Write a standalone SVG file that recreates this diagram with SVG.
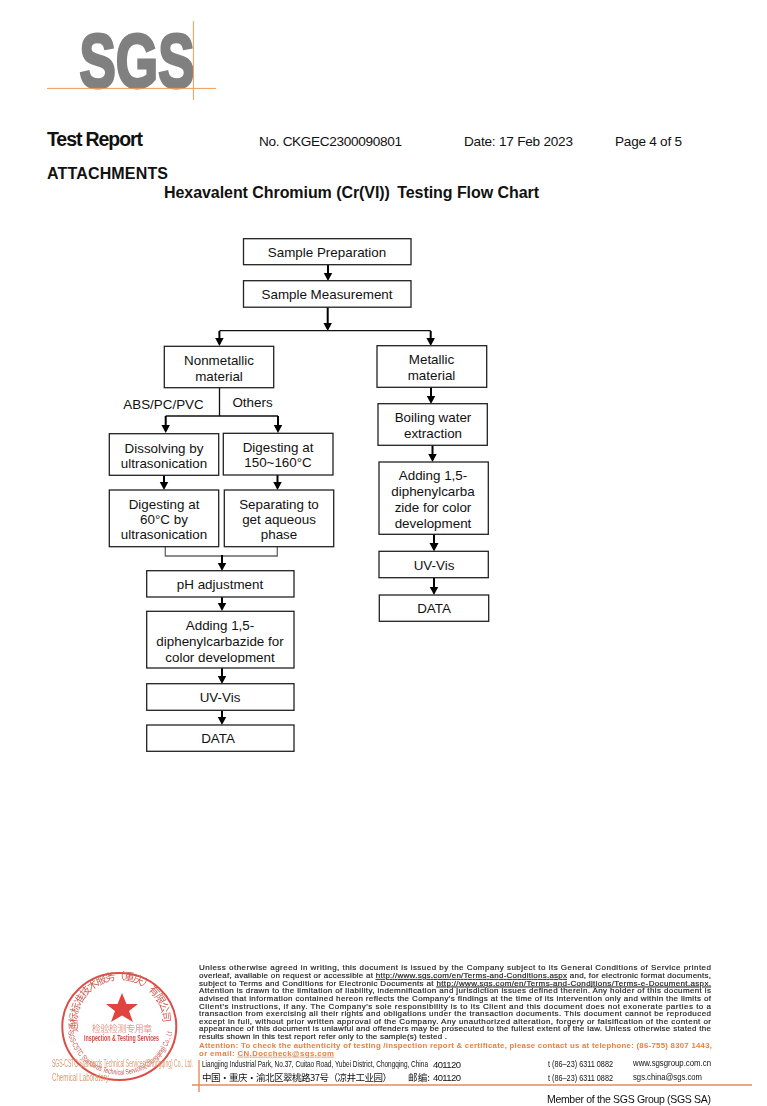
<svg xmlns="http://www.w3.org/2000/svg" width="767" height="1106" viewBox="0 0 767 1106">
<style>
text{font-family:"Liberation Sans",Arial,sans-serif;fill:#111}
.b{fill:#fff;stroke:#222;stroke-width:1.3}
.t{font-size:13.4px;text-anchor:middle}
.l{fill:none;stroke:#111;stroke-width:1.3}
.a{fill:none;stroke:#000;stroke-width:2;marker-end:url(#ah)}
.h{font-size:13.600px}
.f{font-size:8px;fill:#222;stroke:#222;stroke-width:.18}
.o{font-size:7.800px;font-weight:bold;fill:#e8803f}
.c{font-size:9.500px}
.s{fill:#d2302a;font-family:"Noto Sans CJK SC","Liberation Sans",sans-serif}
</style>
<defs>
<marker id="ah" markerUnits="userSpaceOnUse" markerWidth="10" markerHeight="10" refX="6" refY="4.500" orient="auto"><path d="M0 0L8.500 4.500L0 9Z" fill="#000"/></marker>
<path id="up" d="M0 0A43 43 0 1 1 84 0"/>
<path id="lo" d="M0 0A53 53 0 0 0 104 0"/>
<clipPath id="cut"><rect x="147" y="650" width="147" height="12.800"/></clipPath>
<filter id="soft"><feGaussianBlur stdDeviation=".25"/></filter>
</defs>
<rect width="767" height="1106" fill="#fff"/>
<g id="logo">
<text x="79.500" y="87" font-size="76" font-weight="bold" textLength="115" lengthAdjust="spacingAndGlyphs" style="fill:#808080;stroke:#808080;stroke-width:3">SGS</text>
<path d="M47 88.400H216M193.400 21V100" stroke="#ee9c55" fill="none"/>
</g>
<g id="header">
<text x="47" y="146" font-size="19.500" font-weight="bold" textLength="96">Test Report</text>
<text x="259" y="146" class="h" textLength="143">No. CKGEC2300090801</text>
<text x="464" y="146" class="h" textLength="109">Date: 17 Feb 2023</text>
<text x="615" y="146" class="h" textLength="67">Page 4 of 5</text>
<text x="47" y="179" font-size="16" font-weight="bold" textLength="121">ATTACHMENTS</text>
<text x="164" y="198" font-size="16" font-weight="bold" textLength="375">Hexavalent Chromium (Cr(VI)) <tspan dx="3">Testing Flow Chart</tspan></text>
</g>
<g id="connectors">
<path class="a" d="M328 265V278.500"/>
<path class="a" d="M327.700 307V328.500"/>
<path class="l" d="M219.400 330.700H430.700"/>
<path class="a" d="M219.400 331V343.500"/>
<path class="a" d="M430.700 331V343.500"/>
<path class="l" d="M219.500 388V416M165.700 416H278"/>
<path class="a" d="M165.700 416V430.500"/>
<path class="a" d="M278 416V430.500"/>
<path class="a" d="M164 475V487.500"/>
<path class="a" d="M277.500 475V487.500"/>
<path class="l" style="stroke:#666" d="M165.300 547V556H277.300V547"/>
<path class="a" d="M222 555V568.500"/>
<path class="a" d="M222 597V608.500"/>
<path class="a" d="M222 668V681.500"/>
<path class="a" d="M222 710V722.500"/>
<path class="a" d="M431 387V401.500"/>
<path class="a" d="M432.500 445V459.500"/>
<path class="a" d="M434 534V549"/>
<path class="a" d="M434 578V592.500"/>
</g>
<g id="n1"><rect class="b" x="243.500" y="238.700" width="167.500" height="26"/><text class="t" x="327" y="257">Sample Preparation</text></g>
<g id="n2"><rect class="b" x="243.500" y="280.700" width="167.500" height="26.500"/><text class="t" x="327" y="299">Sample Measurement</text></g>
<g id="n3"><rect class="b" x="164.300" y="346.300" width="109.400" height="41.400"/><text class="t" x="219" y="365">Nonmetallic</text><text class="t" x="219" y="381">material</text></g>
<g id="n4"><rect class="b" x="377" y="345.700" width="109.700" height="41.600"/><text class="t" x="431.500" y="364">Metallic</text><text class="t" x="431.500" y="380">material</text></g>
<g id="lab1"><text class="t" x="163.500" y="409">ABS/PC/PVC</text></g>
<g id="lab2"><text class="t" x="252.500" y="407">Others</text></g>
<g id="n5"><rect class="b" x="109.300" y="433.700" width="109.400" height="41.600"/><text class="t" x="164" y="452.500">Dissolving by</text><text class="t" x="164" y="468">ultrasonication</text></g>
<g id="n6"><rect class="b" x="223.300" y="433.300" width="109.700" height="41.700"/><text class="t" x="278" y="451.500">Digesting at</text><text class="t" x="278" y="466.500">150~160°C</text></g>
<g id="n7"><rect class="b" x="378" y="403.700" width="109.300" height="41.600"/><text class="t" x="433" y="422">Boiling water</text><text class="t" x="433" y="438">extraction</text></g>
<g id="n8"><rect class="b" x="379" y="462" width="109.300" height="72.300"/><text class="t" x="433" y="480">Adding 1,5-</text><text class="t" x="433" y="496">diphenylcarba</text><text class="t" x="433" y="512">zide for color</text><text class="t" x="433" y="528">development</text></g>
<g id="n9"><rect class="b" x="109.300" y="490" width="109.400" height="56.700"/><text class="t" x="164" y="508.500">Digesting at</text><text class="t" x="164" y="524">60°C by</text><text class="t" x="164" y="539">ultrasonication</text></g>
<g id="n10"><rect class="b" x="224.300" y="490" width="109.400" height="56.700"/><text class="t" x="279" y="508.500">Separating to</text><text class="t" x="279" y="524">get aqueous</text><text class="t" x="279" y="539">phase</text></g>
<g id="n11"><rect class="b" x="379" y="551.300" width="109.300" height="26.400"/><text class="t" x="434" y="570">UV-Vis</text></g>
<g id="n12"><rect class="b" x="379.300" y="595" width="109.400" height="26.300"/><text class="t" x="434" y="613">DATA</text></g>
<g id="n13"><rect class="b" x="146.700" y="570.700" width="147.300" height="26.300"/><text class="t" x="220" y="589">pH adjustment</text></g>
<g id="n14"><rect class="b" x="146.700" y="611.300" width="147.300" height="56.700"/><text class="t" x="220" y="630">Adding 1,5-</text><text class="t" x="220" y="646">diphenylcarbazide for</text><text class="t" x="220" y="662" clip-path="url(#cut)">color development</text></g>
<g id="n15"><rect class="b" x="146.700" y="683.700" width="147.300" height="26.600"/><text class="t" x="220" y="702">UV-Vis</text></g>
<g id="n16"><rect class="b" x="146.700" y="725" width="147.300" height="26.300"/><text class="t" x="218" y="743">DATA</text></g>
<g id="stamp" filter="url(#soft)" opacity=".88">
<ellipse cx="119.300" cy="1026.500" rx="57" ry="53.500" fill="none" stroke="#d8352d" stroke-width="2"/>
<polygon fill="#dc2a26" points="122,993 126.500,1004 138,1004 129,1011 133,1022 122,1015.500 111,1022 115,1011 106,1004 117.500,1004"/>
<g transform="translate(78 1032)"><text class="s" font-size="10.500" style="fill:#c8483c"><textPath href="#up" textLength="144">通标标准技术服务（重庆）有限公司</textPath></text></g>
<text class="s" x="122" y="1032" font-size="8.800" text-anchor="middle" textLength="60" style="fill:#e08a78">检验检测专用章</text>
<text x="121.500" y="1041" font-size="8.500" font-weight="bold" text-anchor="middle" textLength="75" lengthAdjust="spacingAndGlyphs" style="fill:#c83228">Inspection &amp; Testing Services</text>
<g transform="translate(68 1032)"><text font-size="7.500" style="fill:#c0403a"><textPath href="#lo" textLength="150" lengthAdjust="spacingAndGlyphs">SGS-CSTC Standards Technical Services(Chongqing) Co., Ltd.</textPath></text></g>
</g>
<g id="lab" filter="url(#soft)">
<text x="52" y="1067" font-size="10" textLength="141" lengthAdjust="spacingAndGlyphs" style="fill:#d89a70">SGS-CSTC Standards Technical Services(Chongqing) Co., Ltd.</text>
<text x="52" y="1081" font-size="10" textLength="58" lengthAdjust="spacingAndGlyphs" style="fill:#d89a70">Chemical Laboratory.</text>
</g>
<g id="legal" filter="url(#soft)">
<text class="f" x="199" y="970.300" textLength="512">Unless otherwise agreed in writing, this document is issued by the Company subject to its General Conditions of Service printed</text>
<text class="f" x="199" y="978" textLength="512">overleaf, available on request or accessible at <tspan text-decoration="underline">http://www.sgs.com/en/Terms-and-Conditions.aspx</tspan> and, for electronic format documents,</text>
<text class="f" x="199" y="985.600" textLength="512">subject to Terms and Conditions for Electronic Documents at <tspan text-decoration="underline">http://www.sgs.com/en/Terms-and-Conditions/Terms-e-Document.aspx.</tspan></text>
<text class="f" x="199" y="993.200" textLength="512">Attention is drawn to the limitation of liability, indemnification and jurisdiction issues defined therein. Any holder of this document is</text>
<text class="f" x="199" y="1000.800" textLength="512">advised that information contained hereon reflects the Company's findings at the time of its intervention only and within the limits of</text>
<text class="f" x="199" y="1008.500" textLength="512">Client's instructions, if any. The Company's sole responsibility is to its Client and this document does not exonerate parties to a</text>
<text class="f" x="199" y="1016.100" textLength="512">transaction from exercising all their rights and obligations under the transaction documents. This document cannot be reproduced</text>
<text class="f" x="199" y="1023.700" textLength="512">except in full, without prior written approval of the Company. Any unauthorized alteration, forgery or falsification of the content or</text>
<text class="f" x="199" y="1031.400" textLength="512">appearance of this document is unlawful and offenders may be prosecuted to the fullest extent of the law. Unless otherwise stated the</text>
<text class="f" x="199" y="1039" textLength="248">results shown in this test report refer only to the sample(s) tested .</text>
<text class="o" x="199" y="1047.700" textLength="513">Attention: To check the authenticity of testing /inspection report &amp; certificate, please contact us at telephone: (86-755) 8307 1443,</text>
<text class="o" x="199" y="1055.700" textLength="135">or email: <tspan text-decoration="underline">CN.Doccheck@sgs.com</tspan></text>
</g>
<g id="footer">
<path d="M192 1085H752M199 1060V1092" stroke="#e98b5a" stroke-width="1.400" fill="none"/>
<g filter="url(#soft)">
<text class="c" x="202" y="1067" textLength="226" lengthAdjust="spacingAndGlyphs">Liangjing Industrial Park, No.37, Cuitao Road, Yubei District, Chongqing, China</text>
<text class="c" x="433" y="1068" textLength="28">401120</text>
<text class="c" x="202" y="1081" style="font-family:'Noto Sans CJK SC',sans-serif" textLength="190">中国・重庆・渝北区翠桃路37号（凉井工业园）</text>
<text class="c" x="408" y="1081" style="font-family:'Noto Sans CJK SC',sans-serif" textLength="22">邮编:</text>
<text class="c" x="433" y="1081" textLength="28">401120</text>
<text class="c" x="548" y="1067" textLength="65" lengthAdjust="spacingAndGlyphs">t  (86–23) 6311 0882</text>
<text class="c" x="548" y="1080.500" textLength="65" lengthAdjust="spacingAndGlyphs">t  (86–23) 6311 0882</text>
<text class="c" x="633" y="1066" textLength="78" lengthAdjust="spacingAndGlyphs">www.sgsgroup.com.cn</text>
<text class="c" x="633" y="1079.500" textLength="69" lengthAdjust="spacingAndGlyphs">sgs.china@sgs.com</text>
<text x="547" y="1103" font-size="10.500" textLength="164">Member of the SGS Group (SGS SA)</text>
</g>
</g>
</svg>
